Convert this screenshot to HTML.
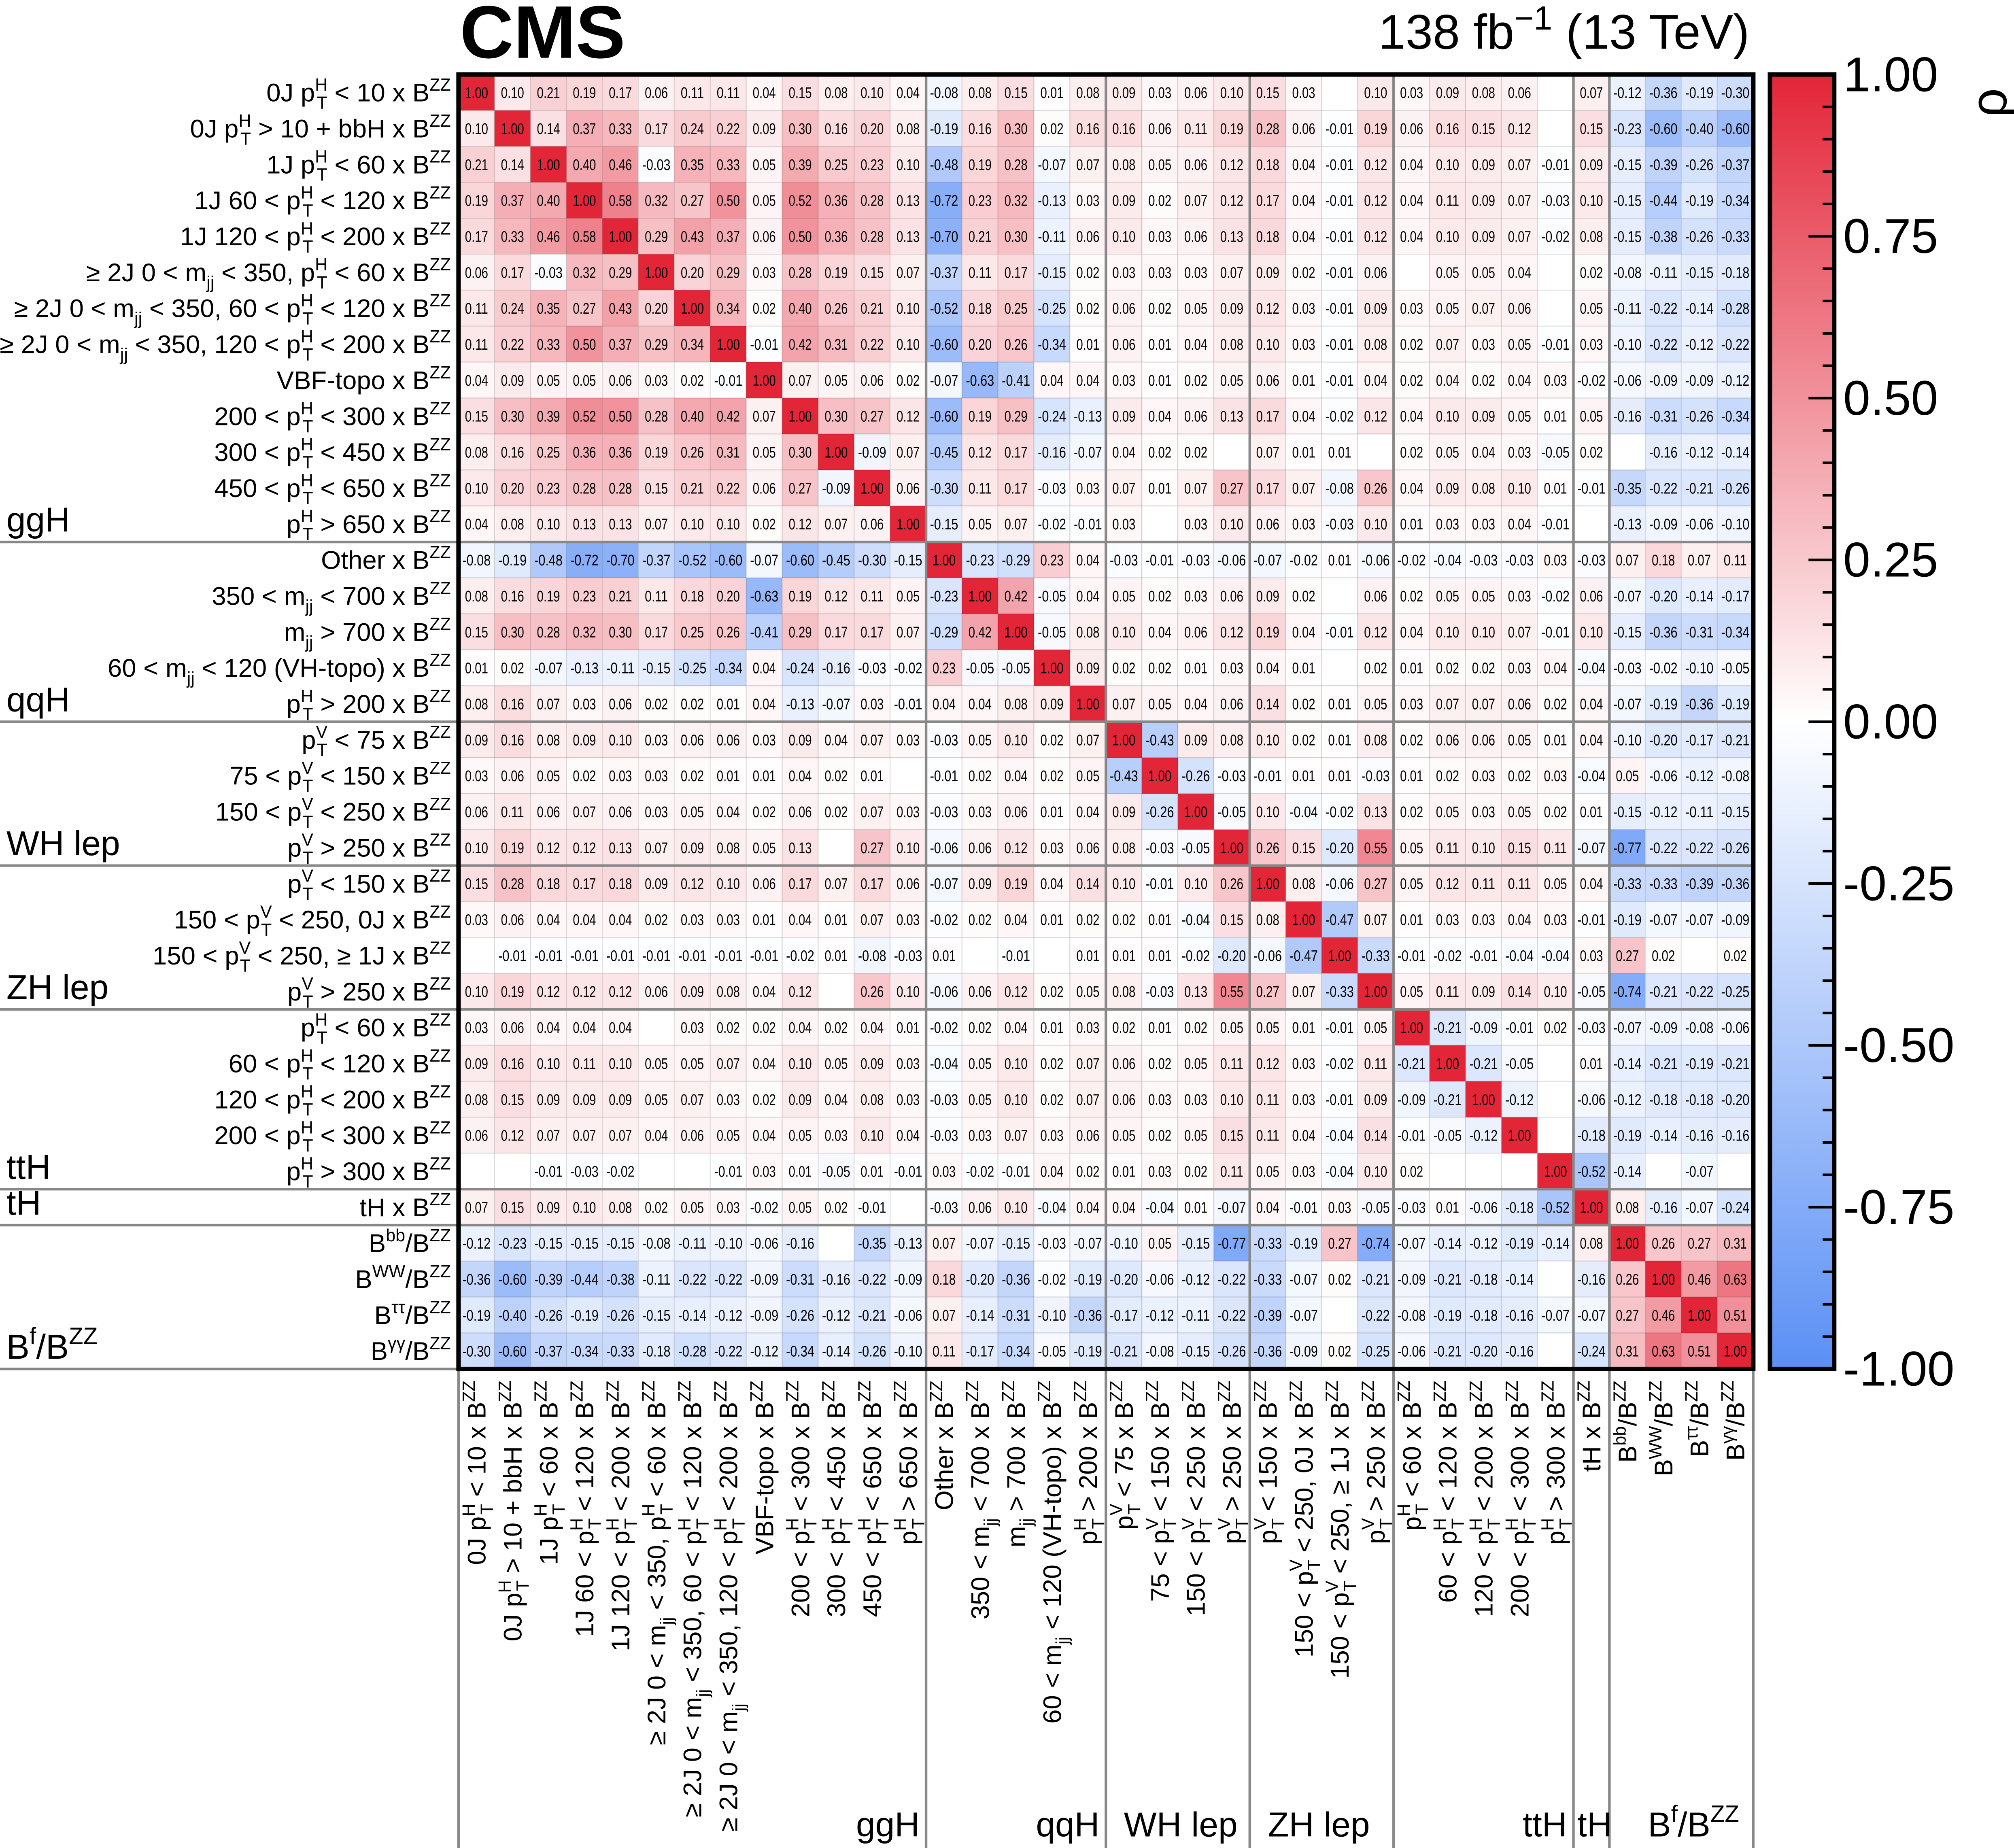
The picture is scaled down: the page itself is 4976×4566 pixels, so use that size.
<!DOCTYPE html>
<html><head><meta charset="utf-8">
<style>
html,body{margin:0;padding:0;background:#fff;}
svg{display:block;font-family:"Liberation Sans",Arial,sans-serif;}
</style></head>
<body>
<svg id="chart" xmlns="http://www.w3.org/2000/svg" width="4976" height="4566" viewBox="0 0 1568 1439" preserveAspectRatio="none">
<defs>
<linearGradient id="cbar" x1="0" y1="0" x2="0" y2="1">
<stop offset="0" stop-color="#e32538"/>
<stop offset="0.5" stop-color="#ffffff"/>
<stop offset="1" stop-color="#5a8ff5"/>
</linearGradient>
</defs>
<g id="cells"></g>
<g id="seps"></g>
<g id="rowlabels"></g>
<g id="collabels"></g>
<text x="358" y="45" font-size="58" font-weight="bold">CMS</text>
<text x="1362" y="38" font-size="38" text-anchor="end">138 fb<tspan dy="-15" font-size="26">−1</tspan><tspan dy="15"> (13 TeV)</tspan></text>
<g id="colorbar">
<rect x="1378" y="58" width="50" height="1008" fill="url(#cbar)" stroke="#000" stroke-width="3.5"/>
</g>
<text x="1562" y="80" font-size="40" transform="rotate(-90 1562 80)" text-anchor="middle">ρ</text>
</svg>
<script>
var NS = "http://www.w3.org/2000/svg";
var rowLabels = [
"0J p^{H}_{T} < 10 x B^{ZZ}","0J p^{H}_{T} > 10 + bbH x B^{ZZ}","1J p^{H}_{T} < 60 x B^{ZZ}",
"1J 60 < p^{H}_{T} < 120 x B^{ZZ}","1J 120 < p^{H}_{T} < 200 x B^{ZZ}",
"≥ 2J 0 < m_{jj} < 350, p^{H}_{T} < 60 x B^{ZZ}","≥ 2J 0 < m_{jj} < 350, 60 < p^{H}_{T} < 120 x B^{ZZ}",
"≥ 2J 0 < m_{jj} < 350, 120 < p^{H}_{T} < 200 x B^{ZZ}","VBF-topo x B^{ZZ}",
"200 < p^{H}_{T} < 300 x B^{ZZ}","300 < p^{H}_{T} < 450 x B^{ZZ}","450 < p^{H}_{T} < 650 x B^{ZZ}","p^{H}_{T} > 650 x B^{ZZ}",
"Other x B^{ZZ}","350 < m_{jj} < 700 x B^{ZZ}","m_{jj} > 700 x B^{ZZ}","60 < m_{jj} < 120 (VH-topo) x B^{ZZ}","p^{H}_{T} > 200 x B^{ZZ}",
"p^{V}_{T} < 75 x B^{ZZ}","75 < p^{V}_{T} < 150 x B^{ZZ}","150 < p^{V}_{T} < 250 x B^{ZZ}","p^{V}_{T} > 250 x B^{ZZ}",
"p^{V}_{T} < 150 x B^{ZZ}","150 < p^{V}_{T} < 250, 0J x B^{ZZ}","150 < p^{V}_{T} < 250, ≥ 1J x B^{ZZ}","p^{V}_{T} > 250 x B^{ZZ}",
"p^{H}_{T} < 60 x B^{ZZ}","60 < p^{H}_{T} < 120 x B^{ZZ}","120 < p^{H}_{T} < 200 x B^{ZZ}","200 < p^{H}_{T} < 300 x B^{ZZ}","p^{H}_{T} > 300 x B^{ZZ}",
"tH x B^{ZZ}","B^{bb}/B^{ZZ}","B^{WW}/B^{ZZ}","B^{ττ}/B^{ZZ}","B^{γγ}/B^{ZZ}"
];
var groupNames = ["ggH","qqH","WH lep","ZH lep","ttH","tH","B^{f}/B^{ZZ}"];
var groupEnds = [13,18,22,26,31,32,36];
var cbTicks = ["1.00","0.75","0.50","0.25","0.00","-0.25","-0.50","-0.75","-1.00"];
var cbTickValues = [1,0.75,0.5,0.25,0,-0.25,-0.5,-0.75,-1];
var corr = [
[1.00,0.10,0.21,0.19,0.17,0.06,0.11,0.11,0.04,0.15,0.08,0.10,0.04,-0.08,0.08,0.15,0.01,0.08,0.09,0.03,0.06,0.10,0.15,0.03,0,0.10,0.03,0.09,0.08,0.06,0,0.07,-0.12,-0.36,-0.19,-0.30],
[0.10,1.00,0.14,0.37,0.33,0.17,0.24,0.22,0.09,0.30,0.16,0.20,0.08,-0.19,0.16,0.30,0.02,0.16,0.16,0.06,0.11,0.19,0.28,0.06,-0.01,0.19,0.06,0.16,0.15,0.12,0,0.15,-0.23,-0.60,-0.40,-0.60],
[0.21,0.14,1.00,0.40,0.46,-0.03,0.35,0.33,0.05,0.39,0.25,0.23,0.10,-0.48,0.19,0.28,-0.07,0.07,0.08,0.05,0.06,0.12,0.18,0.04,-0.01,0.12,0.04,0.10,0.09,0.07,-0.01,0.09,-0.15,-0.39,-0.26,-0.37],
[0.19,0.37,0.40,1.00,0.58,0.32,0.27,0.50,0.05,0.52,0.36,0.28,0.13,-0.72,0.23,0.32,-0.13,0.03,0.09,0.02,0.07,0.12,0.17,0.04,-0.01,0.12,0.04,0.11,0.09,0.07,-0.03,0.10,-0.15,-0.44,-0.19,-0.34],
[0.17,0.33,0.46,0.58,1.00,0.29,0.43,0.37,0.06,0.50,0.36,0.28,0.13,-0.70,0.21,0.30,-0.11,0.06,0.10,0.03,0.06,0.13,0.18,0.04,-0.01,0.12,0.04,0.10,0.09,0.07,-0.02,0.08,-0.15,-0.38,-0.26,-0.33],
[0.06,0.17,-0.03,0.32,0.29,1.00,0.20,0.29,0.03,0.28,0.19,0.15,0.07,-0.37,0.11,0.17,-0.15,0.02,0.03,0.03,0.03,0.07,0.09,0.02,-0.01,0.06,0,0.05,0.05,0.04,0,0.02,-0.08,-0.11,-0.15,-0.18],
[0.11,0.24,0.35,0.27,0.43,0.20,1.00,0.34,0.02,0.40,0.26,0.21,0.10,-0.52,0.18,0.25,-0.25,0.02,0.06,0.02,0.05,0.09,0.12,0.03,-0.01,0.09,0.03,0.05,0.07,0.06,0,0.05,-0.11,-0.22,-0.14,-0.28],
[0.11,0.22,0.33,0.50,0.37,0.29,0.34,1.00,-0.01,0.42,0.31,0.22,0.10,-0.60,0.20,0.26,-0.34,0.01,0.06,0.01,0.04,0.08,0.10,0.03,-0.01,0.08,0.02,0.07,0.03,0.05,-0.01,0.03,-0.10,-0.22,-0.12,-0.22],
[0.04,0.09,0.05,0.05,0.06,0.03,0.02,-0.01,1.00,0.07,0.05,0.06,0.02,-0.07,-0.63,-0.41,0.04,0.04,0.03,0.01,0.02,0.05,0.06,0.01,-0.01,0.04,0.02,0.04,0.02,0.04,0.03,-0.02,-0.06,-0.09,-0.09,-0.12],
[0.15,0.30,0.39,0.52,0.50,0.28,0.40,0.42,0.07,1.00,0.30,0.27,0.12,-0.60,0.19,0.29,-0.24,-0.13,0.09,0.04,0.06,0.13,0.17,0.04,-0.02,0.12,0.04,0.10,0.09,0.05,0.01,0.05,-0.16,-0.31,-0.26,-0.34],
[0.08,0.16,0.25,0.36,0.36,0.19,0.26,0.31,0.05,0.30,1.00,-0.09,0.07,-0.45,0.12,0.17,-0.16,-0.07,0.04,0.02,0.02,0,0.07,0.01,0.01,0,0.02,0.05,0.04,0.03,-0.05,0.02,0,-0.16,-0.12,-0.14],
[0.10,0.20,0.23,0.28,0.28,0.15,0.21,0.22,0.06,0.27,-0.09,1.00,0.06,-0.30,0.11,0.17,-0.03,0.03,0.07,0.01,0.07,0.27,0.17,0.07,-0.08,0.26,0.04,0.09,0.08,0.10,0.01,-0.01,-0.35,-0.22,-0.21,-0.26],
[0.04,0.08,0.10,0.13,0.13,0.07,0.10,0.10,0.02,0.12,0.07,0.06,1.00,-0.15,0.05,0.07,-0.02,-0.01,0.03,0,0.03,0.10,0.06,0.03,-0.03,0.10,0.01,0.03,0.03,0.04,-0.01,0,-0.13,-0.09,-0.06,-0.10],
[-0.08,-0.19,-0.48,-0.72,-0.70,-0.37,-0.52,-0.60,-0.07,-0.60,-0.45,-0.30,-0.15,1.00,-0.23,-0.29,0.23,0.04,-0.03,-0.01,-0.03,-0.06,-0.07,-0.02,0.01,-0.06,-0.02,-0.04,-0.03,-0.03,0.03,-0.03,0.07,0.18,0.07,0.11],
[0.08,0.16,0.19,0.23,0.21,0.11,0.18,0.20,-0.63,0.19,0.12,0.11,0.05,-0.23,1.00,0.42,-0.05,0.04,0.05,0.02,0.03,0.06,0.09,0.02,0,0.06,0.02,0.05,0.05,0.03,-0.02,0.06,-0.07,-0.20,-0.14,-0.17],
[0.15,0.30,0.28,0.32,0.30,0.17,0.25,0.26,-0.41,0.29,0.17,0.17,0.07,-0.29,0.42,1.00,-0.05,0.08,0.10,0.04,0.06,0.12,0.19,0.04,-0.01,0.12,0.04,0.10,0.10,0.07,-0.01,0.10,-0.15,-0.36,-0.31,-0.34],
[0.01,0.02,-0.07,-0.13,-0.11,-0.15,-0.25,-0.34,0.04,-0.24,-0.16,-0.03,-0.02,0.23,-0.05,-0.05,1.00,0.09,0.02,0.02,0.01,0.03,0.04,0.01,0,0.02,0.01,0.02,0.02,0.03,0.04,-0.04,-0.03,-0.02,-0.10,-0.05],
[0.08,0.16,0.07,0.03,0.06,0.02,0.02,0.01,0.04,-0.13,-0.07,0.03,-0.01,0.04,0.04,0.08,0.09,1.00,0.07,0.05,0.04,0.06,0.14,0.02,0.01,0.05,0.03,0.07,0.07,0.06,0.02,0.04,-0.07,-0.19,-0.36,-0.19],
[0.09,0.16,0.08,0.09,0.10,0.03,0.06,0.06,0.03,0.09,0.04,0.07,0.03,-0.03,0.05,0.10,0.02,0.07,1.00,-0.43,0.09,0.08,0.10,0.02,0.01,0.08,0.02,0.06,0.06,0.05,0.01,0.04,-0.10,-0.20,-0.17,-0.21],
[0.03,0.06,0.05,0.02,0.03,0.03,0.02,0.01,0.01,0.04,0.02,0.01,0,-0.01,0.02,0.04,0.02,0.05,-0.43,1.00,-0.26,-0.03,-0.01,0.01,0.01,-0.03,0.01,0.02,0.03,0.02,0.03,-0.04,0.05,-0.06,-0.12,-0.08],
[0.06,0.11,0.06,0.07,0.06,0.03,0.05,0.04,0.02,0.06,0.02,0.07,0.03,-0.03,0.03,0.06,0.01,0.04,0.09,-0.26,1.00,-0.05,0.10,-0.04,-0.02,0.13,0.02,0.05,0.03,0.05,0.02,0.01,-0.15,-0.12,-0.11,-0.15],
[0.10,0.19,0.12,0.12,0.13,0.07,0.09,0.08,0.05,0.13,0,0.27,0.10,-0.06,0.06,0.12,0.03,0.06,0.08,-0.03,-0.05,1.00,0.26,0.15,-0.20,0.55,0.05,0.11,0.10,0.15,0.11,-0.07,-0.77,-0.22,-0.22,-0.26],
[0.15,0.28,0.18,0.17,0.18,0.09,0.12,0.10,0.06,0.17,0.07,0.17,0.06,-0.07,0.09,0.19,0.04,0.14,0.10,-0.01,0.10,0.26,1.00,0.08,-0.06,0.27,0.05,0.12,0.11,0.11,0.05,0.04,-0.33,-0.33,-0.39,-0.36],
[0.03,0.06,0.04,0.04,0.04,0.02,0.03,0.03,0.01,0.04,0.01,0.07,0.03,-0.02,0.02,0.04,0.01,0.02,0.02,0.01,-0.04,0.15,0.08,1.00,-0.47,0.07,0.01,0.03,0.03,0.04,0.03,-0.01,-0.19,-0.07,-0.07,-0.09],
[0,-0.01,-0.01,-0.01,-0.01,-0.01,-0.01,-0.01,-0.01,-0.02,0.01,-0.08,-0.03,0.01,0,-0.01,0,0.01,0.01,0.01,-0.02,-0.20,-0.06,-0.47,1.00,-0.33,-0.01,-0.02,-0.01,-0.04,-0.04,0.03,0.27,0.02,0,0.02],
[0.10,0.19,0.12,0.12,0.12,0.06,0.09,0.08,0.04,0.12,0,0.26,0.10,-0.06,0.06,0.12,0.02,0.05,0.08,-0.03,0.13,0.55,0.27,0.07,-0.33,1.00,0.05,0.11,0.09,0.14,0.10,-0.05,-0.74,-0.21,-0.22,-0.25],
[0.03,0.06,0.04,0.04,0.04,0,0.03,0.02,0.02,0.04,0.02,0.04,0.01,-0.02,0.02,0.04,0.01,0.03,0.02,0.01,0.02,0.05,0.05,0.01,-0.01,0.05,1.00,-0.21,-0.09,-0.01,0.02,-0.03,-0.07,-0.09,-0.08,-0.06],
[0.09,0.16,0.10,0.11,0.10,0.05,0.05,0.07,0.04,0.10,0.05,0.09,0.03,-0.04,0.05,0.10,0.02,0.07,0.06,0.02,0.05,0.11,0.12,0.03,-0.02,0.11,-0.21,1.00,-0.21,-0.05,0,0.01,-0.14,-0.21,-0.19,-0.21],
[0.08,0.15,0.09,0.09,0.09,0.05,0.07,0.03,0.02,0.09,0.04,0.08,0.03,-0.03,0.05,0.10,0.02,0.07,0.06,0.03,0.03,0.10,0.11,0.03,-0.01,0.09,-0.09,-0.21,1.00,-0.12,0,-0.06,-0.12,-0.18,-0.18,-0.20],
[0.06,0.12,0.07,0.07,0.07,0.04,0.06,0.05,0.04,0.05,0.03,0.10,0.04,-0.03,0.03,0.07,0.03,0.06,0.05,0.02,0.05,0.15,0.11,0.04,-0.04,0.14,-0.01,-0.05,-0.12,1.00,0,-0.18,-0.19,-0.14,-0.16,-0.16],
[0,0,-0.01,-0.03,-0.02,0,0,-0.01,0.03,0.01,-0.05,0.01,-0.01,0.03,-0.02,-0.01,0.04,0.02,0.01,0.03,0.02,0.11,0.05,0.03,-0.04,0.10,0.02,0,0,0,1.00,-0.52,-0.14,0,-0.07,0],
[0.07,0.15,0.09,0.10,0.08,0.02,0.05,0.03,-0.02,0.05,0.02,-0.01,0,-0.03,0.06,0.10,-0.04,0.04,0.04,-0.04,0.01,-0.07,0.04,-0.01,0.03,-0.05,-0.03,0.01,-0.06,-0.18,-0.52,1.00,0.08,-0.16,-0.07,-0.24],
[-0.12,-0.23,-0.15,-0.15,-0.15,-0.08,-0.11,-0.10,-0.06,-0.16,0,-0.35,-0.13,0.07,-0.07,-0.15,-0.03,-0.07,-0.10,0.05,-0.15,-0.77,-0.33,-0.19,0.27,-0.74,-0.07,-0.14,-0.12,-0.19,-0.14,0.08,1.00,0.26,0.27,0.31],
[-0.36,-0.60,-0.39,-0.44,-0.38,-0.11,-0.22,-0.22,-0.09,-0.31,-0.16,-0.22,-0.09,0.18,-0.20,-0.36,-0.02,-0.19,-0.20,-0.06,-0.12,-0.22,-0.33,-0.07,0.02,-0.21,-0.09,-0.21,-0.18,-0.14,0,-0.16,0.26,1.00,0.46,0.63],
[-0.19,-0.40,-0.26,-0.19,-0.26,-0.15,-0.14,-0.12,-0.09,-0.26,-0.12,-0.21,-0.06,0.07,-0.14,-0.31,-0.10,-0.36,-0.17,-0.12,-0.11,-0.22,-0.39,-0.07,0,-0.22,-0.08,-0.19,-0.18,-0.16,-0.07,-0.07,0.27,0.46,1.00,0.51],
[-0.30,-0.60,-0.37,-0.34,-0.33,-0.18,-0.28,-0.22,-0.12,-0.34,-0.14,-0.26,-0.10,0.11,-0.17,-0.34,-0.05,-0.19,-0.21,-0.08,-0.15,-0.26,-0.36,-0.09,0.02,-0.25,-0.06,-0.21,-0.20,-0.16,0,-0.24,0.31,0.63,0.51,1.00]
];

var X0 = 357, Y0 = 58, CELL = 28, N = rowLabels.length;
var X1 = X0 + N*CELL, Y1 = Y0 + N*CELL;
var LFS = 20;
function xPos(i){ return X0 + i*CELL; }
function yPos(i){ return Y0 + i*CELL; }
function cbY(v){ return Y0 + (1 - v)/2 * (Y1 - Y0); }
function color(v){
  var r,g,b,t=Math.min(1,Math.abs(v));
  if(v>=0){ r=255+(227-255)*t; g=255+(37-255)*t; b=255+(56-255)*t; }
  else { r=255+(90-255)*t; g=255+(143-255)*t; b=255+(245-255)*t; }
  return "rgb("+Math.round(r)+","+Math.round(g)+","+Math.round(b)+")";
}
function mk(tag, attrs, parent){
  var e=document.createElementNS(NS,tag);
  for(var k in attrs) e.setAttribute(k,attrs[k]);
  if(parent) parent.appendChild(e);
  return e;
}
function rich(el, str, fs){
  var re=/(\^\{[^}]*\}|_\{[^}]*\})/g, parts=str.split(re), level=0, lastSup=null;
  for(var i=0;i<parts.length;i++){
    var p=parts[i]; if(p==="") continue;
    var ts=document.createElementNS(NS,"tspan");
    if(p[0]==="^"&&p[1]==="{"){
      var t=p.slice(2,-1); ts.textContent=t;
      ts.setAttribute("font-size",fs*0.68);
      ts.setAttribute("dy",(-0.42*fs - level).toFixed(2)); level=-0.42*fs;
      lastSup=t; el.appendChild(ts); continue;
    } else if(p[0]==="_"&&p[1]==="{"){
      var t2=p.slice(2,-1); ts.textContent=t2;
      ts.setAttribute("font-size",fs*0.68);
      if(lastSup!==null && parts[i-1]===""){
        ts.setAttribute("dx",(-lastSup.length*0.62*fs*0.68).toFixed(2));
      }
      ts.setAttribute("dy",(0.28*fs - level).toFixed(2)); level=0.28*fs;
      lastSup=null; el.appendChild(ts); continue;
    } else {
      ts.textContent=p;
      if(level!==0){ ts.setAttribute("dy",(-level).toFixed(2)); level=0; }
      lastSup=null; el.appendChild(ts);
    }
  }
}

// cells
var gc=document.getElementById("cells");
for(var r=0;r<N;r++){
  for(var c=0;c<N;c++){
    var v=corr[r][c];
    var rect=mk("rect",{x:xPos(c),y:yPos(r),width:CELL,height:CELL,fill:color(v),stroke:"rgba(0,0,0,0.09)","stroke-width":0.8},gc);
    
    
    if(v!==0){
      var s=v.toFixed(2);
      var tx=mk("text",{x:xPos(c)+CELL/2,y:yPos(r)+CELL/2+4.3,"font-size":12,"text-anchor":"middle",textLength:(s.length>4?22:18),lengthAdjust:"spacingAndGlyphs"},gc);
      tx.textContent=s;
      
      
    }
  }
}
// separators
var gs=document.getElementById("seps");
for(var k=0;k<groupEnds.length;k++){
  var e=groupEnds[k];
  if(e<N){
    var hl=mk("line",{x1:0,y1:yPos(e),x2:X1,y2:yPos(e),stroke:"#888","stroke-width":2},gs);
    
    
    var vl=mk("line",{x1:xPos(e),y1:Y0,x2:xPos(e),y2:1439,stroke:"#888","stroke-width":2},gs);
    
    
  }
}
var bl=mk("line",{x1:0,y1:Y1,x2:X0,y2:Y1,stroke:"#888","stroke-width":2},gs);


var ll=mk("line",{x1:X0,y1:Y1,x2:X0,y2:1439,stroke:"#888","stroke-width":2},gs);


var rl=mk("line",{x1:X1,y1:Y1,x2:X1,y2:1439,stroke:"#888","stroke-width":2},gs);


var frame=mk("rect",{x:X0,y:Y0,width:X1-X0,height:Y1-Y0,fill:"none",stroke:"#000","stroke-width":3.5},gs);



// row + column labels
var gr=document.getElementById("rowlabels"), gcl=document.getElementById("collabels");
for(var i=0;i<N;i++){
  var t=mk("text",{x:X0-6,y:yPos(i)+CELL/2+7,"font-size":LFS,"text-anchor":"end"},gr);
  rich(t,rowLabels[i],LFS);
  
  
  var cx=xPos(i)+CELL/2+7, cy=Y1+9;
  var t2=mk("text",{x:cx,y:cy,"font-size":LFS,"text-anchor":"end",transform:"rotate(-90 "+cx+" "+cy+")"},gcl);
  rich(t2,rowLabels[i],LFS);
  
  
}
// group labels
var starts=[0].concat(groupEnds.slice(0,-1));
var botAnchors=["end","end","start","start","end","start","start"];
for(var g=0;g<groupNames.length;g++){
  var gl=mk("text",{x:5,y:yPos(groupEnds[g])-8,"font-size":27},gr);
  rich(gl,groupNames[g],27);
  
  
  var bx = botAnchors[g]==="end" ? xPos(groupEnds[g])-5 : xPos(starts[g])+(g===6?30:(g===5?3:14));
  var gb=mk("text",{x:bx,y:1430,"font-size":27,"text-anchor":botAnchors[g]},gcl);
  rich(gb,groupNames[g],27);
  
  
}
// colorbar ticks
var cb=document.getElementById("colorbar");
for(var m=-20;m<=20;m++){
  var val=m/20, y=cbY(val), major=(m%5===0);
  if(m===20||m===-20) continue;
  var tk=mk("line",{x1:1428-(major?20:9),y1:y,x2:1428,y2:y,stroke:"#000","stroke-width":2},cb);
  
  
}
for(var q=0;q<cbTicks.length;q++){
  var lt=mk("text",{x:1435,y:cbY(cbTickValues[q])+13,"font-size":38},cb);
  lt.textContent=cbTicks[q];
  
  
}
</script>
</body></html>
